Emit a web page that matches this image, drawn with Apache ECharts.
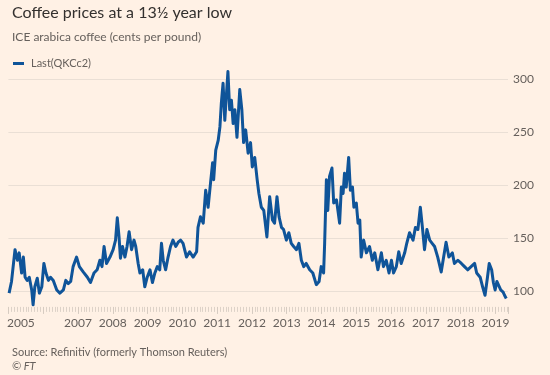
<!DOCTYPE html>
<html><head><meta charset="utf-8">
<script src="https://cdn.jsdelivr.net/npm/echarts@6/dist/echarts.min.js"></script>
<style>html,body{margin:0;padding:0;background:#FFF1E5}#c{width:550px;height:375px}</style>
</head><body><div id="c"></div>
<script>
// decimal years
const dates = [
2005.02,2005.09,2005.19,2005.26,2005.31,2005.38,2005.43,2005.48,2005.54,2005.60,2005.67,2005.71,2005.76,2005.83,2005.89,2005.96,
2006.02,2006.08,2006.15,2006.21,2006.29,2006.39,2006.48,2006.58,2006.65,2006.72,2006.79,2006.86,2006.96,
2007.04,2007.15,2007.27,2007.36,2007.46,2007.55,2007.63,2007.69,2007.75,2007.82,2007.92,
2008.01,2008.08,2008.13,2008.18,2008.22,2008.28,2008.35,2008.41,2008.47,2008.54,2008.61,2008.66,2008.73,2008.78,2008.86,2008.92,2008.99,
2009.07,2009.14,2009.21,2009.28,2009.35,2009.40,2009.45,2009.52,2009.59,2009.66,2009.73,2009.81,2009.88,2009.95,
2010.02,2010.12,2010.21,2010.31,2010.41,2010.45,2010.52,2010.60,2010.67,2010.74,2010.81,2010.87,2010.90,2010.96,
2011.03,2011.08,2011.12,2011.17,2011.22,2011.27,2011.31,2011.36,2011.41,2011.46,2011.51,2011.57,2011.65,2011.71,2011.76,2011.82,2011.89,2011.96,
2012.01,2012.08,2012.15,2012.20,2012.27,2012.34,2012.43,2012.51,2012.59,2012.65,2012.72,2012.78,2012.85,2012.91,2012.99,
2013.06,2013.13,2013.20,2013.28,2013.35,2013.42,2013.49,2013.56,2013.66,2013.75,2013.85,2013.93,2013.99,
2014.06,2014.09,2014.14,2014.18,2014.23,2014.30,2014.35,2014.43,2014.52,2014.57,2014.62,2014.66,2014.71,2014.78,2014.83,2014.89,2014.93,
2015.00,2015.05,2015.10,2015.14,2015.21,2015.29,2015.38,2015.46,2015.53,2015.62,2015.72,2015.78,2015.86,2015.94,
2016.01,2016.07,2016.15,2016.22,2016.29,2016.39,2016.45,2016.53,2016.63,2016.70,2016.77,2016.84,2016.90,2016.96,
2017.03,2017.11,2017.18,2017.25,2017.34,2017.44,2017.51,2017.58,2017.66,2017.76,2017.82,2017.92,
2018.02,2018.11,2018.20,2018.30,2018.40,2018.46,2018.56,2018.63,2018.70,2018.77,2018.82,2018.89,2018.94,2018.99,
2019.04,2019.08,2019.15,2019.22,2019.26,2019.31
];
// cents per pound
const prices = [
98,109,139,129,136,117,132,113,110,113,101,87,104,112,98,104,
126,117,110,113,110,101,98,101,110,107,109,123,132,
123,118,113,108,117,120,129,123,142,126,132,
139,148,169,151,131,142,132,142,156,139,148,142,126,117,120,104,113,
120,108,117,123,120,145,129,120,132,142,148,142,146,148,
145,132,137,132,137,160,170,164,195,179,202,221,205,233,
242,255,277,296,261,287,307,271,280,258,271,245,290,271,240,252,230,240,
217,226,205,192,179,176,151,189,167,164,189,170,160,158,148,
155,145,142,139,145,129,123,126,120,117,106,109,123,
117,145,205,176,208,216,183,186,164,198,192,211,198,226,195,198,179,
183,164,167,132,148,136,142,129,136,120,136,123,129,117,
129,117,123,137,126,136,145,155,148,160,158,179,160,139,
158,148,145,142,132,118,132,146,132,136,126,129,
126,123,120,123,126,117,113,104,96,113,126,120,108,101,
109,110,101,99,96,93
];
const yTicks = [100,150,200,250,300];
const yearLabels = [2005,2007,2008,2009,2010,2011,2012,2013,2014,2015,2016,2017,2018,2019];

const seriesData = dates.map((d,i)=>[d,prices[i]]);
const FONT = 'Lato';
const chart = echarts.init(document.getElementById('c'), null, {renderer:'canvas'});
chart.setOption({
  backgroundColor:'#FFF1E5',
  animation:false,
  textStyle:{fontFamily:FONT},
  title:[
    {text:'Coffee prices at a 13½ year low',left:7,top:0,textStyle:{fontFamily:FONT,fontSize:16,fontWeight:'normal',color:'#33302e'}},
    {text:'ICE arabica coffee (cents per pound)',left:7,top:26,textStyle:{fontFamily:FONT,fontSize:12,fontWeight:'normal',color:'#66605c'}},
    {text:'Source: Refinitiv (formerly Thomson Reuters)',left:7,top:342,textStyle:{fontFamily:FONT,fontSize:11,fontWeight:'normal',color:'#66605c'}},
    {text:'© FT',left:7,top:356,textStyle:{fontFamily:FONT,fontSize:11,fontWeight:'normal',fontStyle:'italic',color:'#66605c'}}
  ],
  legend:{show:true,left:8,top:53,icon:'rect',itemWidth:11,itemHeight:3,itemGap:10,
    textStyle:{fontFamily:FONT,fontSize:11,color:'#66605c',padding:[0,0,0,2]},data:['Last(QKCc2)']},
  grid:{left:8.4,right:42,top:68.4,height:238.5,containLabel:false},
  xAxis:{type:'value',min:2005,max:2019.36,interval:1,
    axisLine:{show:false},
    axisTick:{show:true,length:7,lineStyle:{color:'#d6cbc1'}},
    minorTick:{show:true,splitNumber:12,length:5,lineStyle:{color:'#ddd2c8'}},
    splitLine:{show:false},
    axisLabel:{customValues:yearLabels,margin:10,fontFamily:FONT,fontSize:12,color:'#66605c',
      formatter:v=>v===2005?'{l|2005}':String(v),
      rich:{l:{padding:[0,0,0,25],fontFamily:FONT,fontSize:12,color:'#66605c'}}}
  },
  yAxis:{type:'value',position:'right',min:85,max:310,
    axisLine:{show:false},
    axisTick:{show:false,customValues:yTicks},
    axisLabel:{customValues:yTicks,margin:5,fontFamily:FONT,fontSize:12,color:'#66605c'},
    splitLine:{show:true,lineStyle:{color:'#eadfd5',width:1}}
  },
  series:[{name:'Last(QKCc2)',type:'line',data:seriesData,showSymbol:false,
    lineStyle:{color:'#0f5499',width:3,join:'round'},itemStyle:{color:'#0f5499'}}]
});
</script>
</body></html>
